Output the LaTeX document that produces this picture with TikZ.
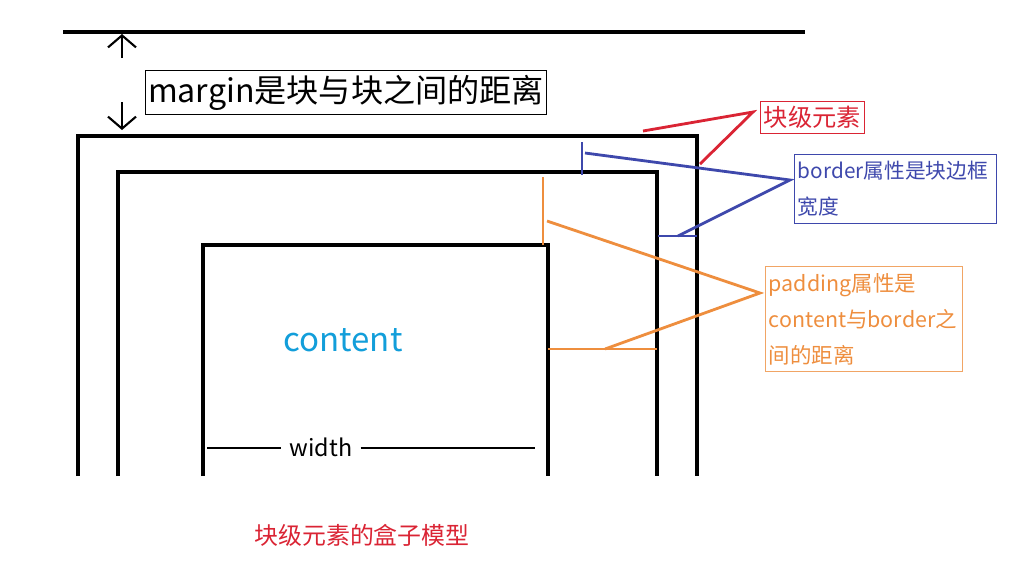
\documentclass[tikz,border=0pt]{standalone}
\usepackage{fontspec}
\newfontfamily\cjk{Noto Sans CJK SC}
\usetikzlibrary{arrows.meta, positioning, calc}
\definecolor{markred}{RGB}{218,36,52}
\definecolor{markblue}{RGB}{62,72,172}
\definecolor{markorange}{RGB}{238,142,62}
\definecolor{contentblue}{RGB}{18,158,218}
\tikzset{
  wall/.style={line width=1.8pt, draw=black},
  dimline/.style={line width=1.6pt, draw=black},
  marrow/.style={-{Straight Barb[length=0.24cm, width=0.56cm, line width=1.2pt]}, line width=1.2pt},
  tag/.style={rectangle, draw, line width=0.5pt, anchor=north west, inner xsep=2pt,
              inner ysep=0pt, align=left, font=\cjk},
  redline/.style={line width=1.6pt, draw=markred},
  blueline/.style={line width=1.6pt, draw=markblue},
  orangeline/.style={line width=1.6pt, draw=markorange},
}

\begin{document}
\begin{tikzpicture}[x=0.02cm, y=-0.02cm]
  \useasboundingbox (0,0) rectangle (1014,576);

  % Top edge and margin
  \draw[wall] (63,32) -- (805,32);
  \coordinate (uptail) at (122,58);
  \coordinate (uphead) at (122,34);
  \coordinate (downtail) at (122,102);
  \coordinate (downhead) at (122,130);
  \draw[marrow] (uptail) -- (uphead);
  \draw[marrow] (downtail) -- (downhead);
  \node[tag, inner xsep=1.5pt, minimum height=0.88cm, font=\cjk\fontsize{18.3}{20}\selectfont]
    (margin) at (145,70) {margin是块与块之间的距离};

  % Boxes
  \draw[wall] (78,476) |- (697,136) -- (697,476);
  \draw[wall] (118,476) |- (657,172) -- (657,476);
  \draw[wall] (203,476) |- (548,245) -- (548,476);

  % Content and width
  \node[font=\cjk\fontsize{18.8}{20}\selectfont, text=contentblue] (content) at (343,340) {content};
  \node[inner xsep=4.5pt, font=\cjk\fontsize{13.3}{14}\selectfont] (width) at (321,447) {width};
  \coordinate (wleft) at (207,448);
  \coordinate (wright) at (535,448);
  \draw[dimline] (wleft) -- (wleft -| width.west);
  \draw[dimline] (width.east |- wright) -- (wright);

  % Block element label
  \node[tag, draw=markred, text=markred, minimum width=2.08cm, minimum height=0.64cm,
        font=\cjk\fontsize{13.8}{16}\selectfont] (block) at (760,101) {块级元素};
  \coordinate (redtip) at (753,112);
  \coordinate (redtop) at (643,131);
  \coordinate (redwall) at (700,164);
  \draw[redline] (redtop) -- (redtip) -- (redwall);

  % Border label
  \node[tag, draw=markblue, text=markblue, text width=3.9cm, minimum height=1.38cm,
        font=\cjk\fontsize{11.8}{20.5}\selectfont] (border) at (794,154)
    {border属性是块边框\\宽度};
  \coordinate (bluetick) at (582,142);
  \coordinate (bluetickend) at (582,175);
  \coordinate (bluetop) at (585,153);
  \coordinate (bluetip) at (790,180);
  \coordinate (bluelow) at (678,236);
  \coordinate (blueleft) at (658,236);
  \coordinate (blueright) at (697,236);
  \draw[blueline] (bluetick) -- (bluetickend);
  \draw[blueline] (bluetop) -- (bluetip) -- (bluelow);
  \draw[blueline] (blueleft) -- (blueright);

  % Padding label
  \node[tag, draw=markorange!80, text=markorange, text width=3.8cm, minimum height=2.1cm,
        font=\cjk\fontsize{12.2}{20.5}\selectfont] (padding) at (765,266)
    {padding属性是\\content与border之\\间的距离};
  \coordinate (orangetick) at (543,177);
  \coordinate (orangetickend) at (543,245);
  \coordinate (orangetop) at (547,221);
  \coordinate (orangetip) at (760,293);
  \coordinate (orangelow) at (605,349);
  \coordinate (orangeleft) at (548,349);
  \coordinate (orangeright) at (657,349);
  \draw[orangeline] (orangetick) -- (orangetickend);
  \draw[orangeline] (orangetop) -- (orangetip) -- (orangelow);
  \draw[orangeline] (orangeleft) -- (orangeright);

  % Caption
  \node[font=\cjk\fontsize{13.6}{16}\selectfont, text=markred] (caption) at (362,535)
    {块级元素的盒子模型};
\end{tikzpicture}
\end{document}
